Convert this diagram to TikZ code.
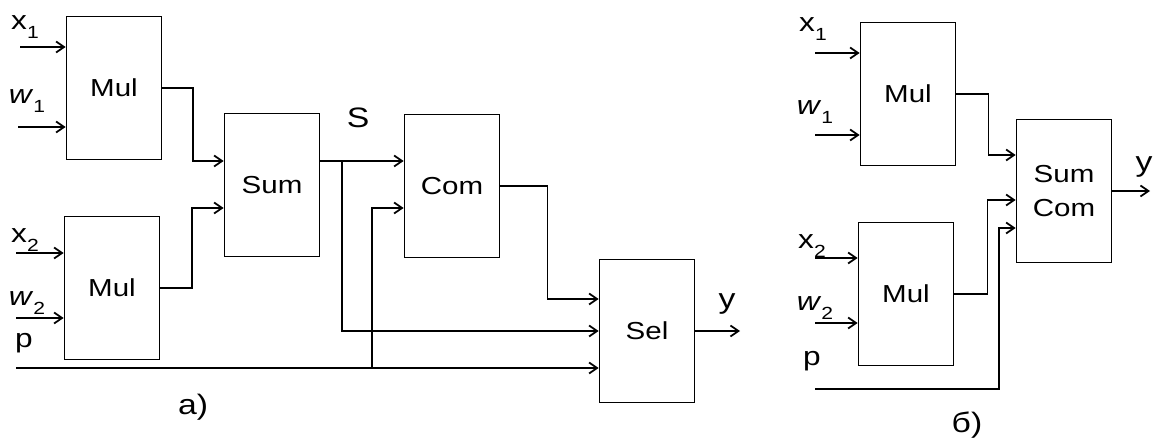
\documentclass[tikz,border=0pt]{standalone}
\usepackage{fontspec}
\setmainfont[FakeStretch=1.2]{Liberation Sans}
\usetikzlibrary{arrows.meta,calc}
\tikzset{
  blk/.style ={draw,line width=1pt,minimum width=1.9cm,minimum height=2.86cm,
               inner sep=0pt,align=center,font=\fontsize{14}{19}\selectfont},
  lbl/.style ={inner sep=0pt,font=\fontsize{15}{17}\selectfont},
  figlbl/.style ={inner sep=0pt,font=\fontsize{16}{18}\selectfont},
  flow/.style={-{Straight Barb[length=1.6mm,width=2.2mm]},line width=1pt}
}
\newcommand{\sig}[2]{#1\raisebox{-5pt}{\fontsize{10}{10}\selectfont #2}}

\begin{document}
\begin{tikzpicture}[x=0.02cm,y=-0.02cm]
  \useasboundingbox (0,0) rectangle (1155,448);
  % a)
  \node[blk] (mula1) at (114,88)  {Mul};
  \node[blk] (mula2) at (112,288) {Mul};
  \node[blk] (suma)  at (272,185) {Sum};
  \node[blk] (com)   at (452,186) {Com};
  \node[blk] (sel)   at (647,331) {Sel};
  \node[lbl] (lx1a) at (25,27)  {\sig{x}{1}};
  \node[lbl] (lw1a) at (27,101) {\sig{\textit{w}}{1}};
  \node[lbl] (lx2a) at (25,240) {\sig{x}{2}};
  \node[lbl] (lw2a) at (27,303) {\sig{\textit{w}}{2}};
  \node[lbl] (lpa)  at (24,343) {p};
  \node[figlbl] (ls)   at (358,118) {S};
  \node[figlbl] (lya)  at (727,304) {y};
  \node[figlbl] (capa) at (193,407) {a)};
  \coordinate (inx1a) at (20,47);
  \coordinate (inw1a) at (18,127);
  \coordinate (inx2a) at (16,253);
  \coordinate (inw2a) at (16,318);
  \coordinate (inpa)  at (16,368);
  \coordinate (pa)    at (372,368);
  \coordinate (outa)  at (740,331);
  \draw[flow] (inx1a) -- (inx1a -| mula1.west);
  \draw[flow] (inw1a) -- (inw1a -| mula1.west);
  \draw[flow] (inx2a) -- (inx2a -| mula2.west);
  \draw[flow] (inw2a) -- (inw2a -| mula2.west);
  \draw[flow] (mula1.east) -- ++(31,0) |- ($(suma.west)+(0,-24)$);
  \draw[flow] (mula2.east) -- ++(32,0) |- ($(suma.west)+(0,23)$);
  \draw[flow] ($(suma.east)+(0,-24)$) coordinate (s) -- (s -| com.west);
  \draw[flow] ($(s)+(22,0)$) |- (sel.west);
  \draw[flow] (inpa) -- (inpa -| sel.west);
  \draw[flow] (pa) |- ($(com.west)+(0,22)$);
  \draw[flow] (com.east) -- ++(47,0) |- ($(sel.west)+(0,-32)$);
  \draw[flow] (sel.east) -- (outa);
  % b)
  \node[blk] (mulb1)  at (908,94)  {Mul};
  \node[blk] (mulb2)  at (906,294) {Mul};
  \node[blk] (sumcom) at (1064,191) {Sum\\Com};
  \node[lbl] (lx1b) at (813,29)  {\sig{x}{1}};
  \node[lbl] (lw1b) at (815,112) {\sig{\textit{w}}{1}};
  \node[lbl] (lx2b) at (812,246) {\sig{x}{2}};
  \node[lbl] (lw2b) at (815,308) {\sig{\textit{w}}{2}};
  \node[lbl] (lpb)  at (812,361) {p};
  \node[figlbl] (lyb)  at (1144,167) {y};
  \node[figlbl] (capb) at (967,425) {б)};
  \coordinate (inx1b) at (815,53);
  \coordinate (inw1b) at (815,135);
  \coordinate (inx2b) at (815,258);
  \coordinate (inw2b) at (815,323);
  \coordinate (inpb)  at (815,389);
  \coordinate (outb)  at (1150,191);
  \draw[flow] (inx1b) -- (inx1b -| mulb1.west);
  \draw[flow] (inw1b) -- (inw1b -| mulb1.west);
  \draw[flow] (inx2b) -- (inx2b -| mulb2.west);
  \draw[flow] (inw2b) -- (inw2b -| mulb2.west);
  \draw[flow] (mulb1.east) -- ++(32,0) |- ($(sumcom.west)+(0,-36)$);
  \draw[flow] (mulb2.east) -- ++(33,0) |- ($(sumcom.west)+(0,9)$);
  \draw[flow] (inpb) -- ++(184,0) |- ($(sumcom.west)+(0,37)$);
  \draw[flow] (sumcom.east) -- (outb);
\end{tikzpicture}
\end{document}
